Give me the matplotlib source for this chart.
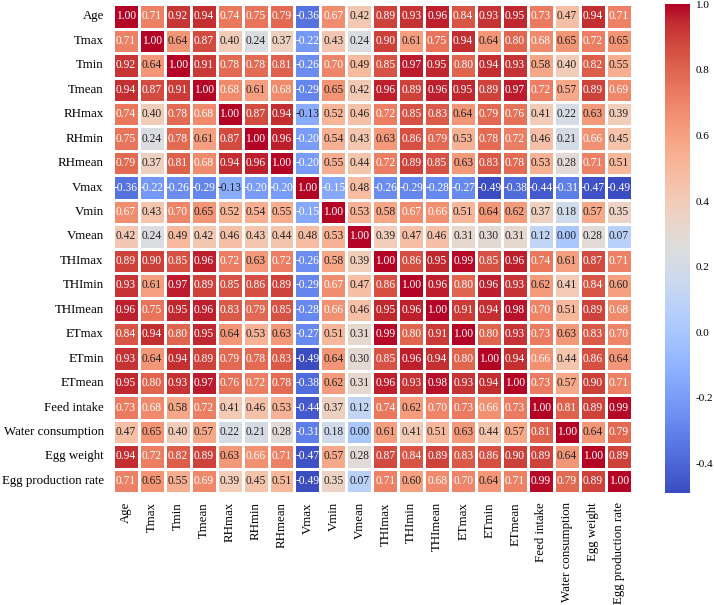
import numpy as np
import matplotlib
matplotlib.use("Agg")
import matplotlib.pyplot as plt
import seaborn as sns

labels = ["Age", "Tmax", "Tmin", "Tmean", "RHmax", "RHmin", "RHmean",
          "Vmax", "Vmin", "Vmean", "THImax", "THImin", "THImean",
          "ETmax", "ETmin", "ETmean", "Feed intake", "Water consumption",
          "Egg weight", "Egg production rate"]

corr = [
    [1.00, 0.71, 0.92, 0.94, 0.74, 0.75, 0.79, -0.36, 0.67, 0.42, 0.89, 0.93, 0.96, 0.84, 0.93, 0.95, 0.73, 0.47, 0.94, 0.71],
    [0.71, 1.00, 0.64, 0.87, 0.40, 0.24, 0.37, -0.22, 0.43, 0.24, 0.90, 0.61, 0.75, 0.94, 0.64, 0.80, 0.68, 0.65, 0.72, 0.65],
    [0.92, 0.64, 1.00, 0.91, 0.78, 0.78, 0.81, -0.26, 0.70, 0.49, 0.85, 0.97, 0.95, 0.80, 0.94, 0.93, 0.58, 0.40, 0.82, 0.55],
    [0.94, 0.87, 0.91, 1.00, 0.68, 0.61, 0.68, -0.29, 0.65, 0.42, 0.96, 0.89, 0.96, 0.95, 0.89, 0.97, 0.72, 0.57, 0.89, 0.69],
    [0.74, 0.40, 0.78, 0.68, 1.00, 0.87, 0.94, -0.13, 0.52, 0.46, 0.72, 0.85, 0.83, 0.64, 0.79, 0.76, 0.41, 0.22, 0.63, 0.39],
    [0.75, 0.24, 0.78, 0.61, 0.87, 1.00, 0.96, -0.20, 0.54, 0.43, 0.63, 0.86, 0.79, 0.53, 0.78, 0.72, 0.46, 0.21, 0.66, 0.45],
    [0.79, 0.37, 0.81, 0.68, 0.94, 0.96, 1.00, -0.20, 0.55, 0.44, 0.72, 0.89, 0.85, 0.63, 0.83, 0.78, 0.53, 0.28, 0.71, 0.51],
    [-0.36, -0.22, -0.26, -0.29, -0.13, -0.20, -0.20, 1.00, -0.15, 0.48, -0.26, -0.29, -0.28, -0.27, -0.49, -0.38, -0.44, -0.31, -0.47, -0.49],
    [0.67, 0.43, 0.70, 0.65, 0.52, 0.54, 0.55, -0.15, 1.00, 0.53, 0.58, 0.67, 0.66, 0.51, 0.64, 0.62, 0.37, 0.18, 0.57, 0.35],
    [0.42, 0.24, 0.49, 0.42, 0.46, 0.43, 0.44, 0.48, 0.53, 1.00, 0.39, 0.47, 0.46, 0.31, 0.30, 0.31, 0.12, 0.00, 0.28, 0.07],
    [0.89, 0.90, 0.85, 0.96, 0.72, 0.63, 0.72, -0.26, 0.58, 0.39, 1.00, 0.86, 0.95, 0.99, 0.85, 0.96, 0.74, 0.61, 0.87, 0.71],
    [0.93, 0.61, 0.97, 0.89, 0.85, 0.86, 0.89, -0.29, 0.67, 0.47, 0.86, 1.00, 0.96, 0.80, 0.96, 0.93, 0.62, 0.41, 0.84, 0.60],
    [0.96, 0.75, 0.95, 0.96, 0.83, 0.79, 0.85, -0.28, 0.66, 0.46, 0.95, 0.96, 1.00, 0.91, 0.94, 0.98, 0.70, 0.51, 0.89, 0.68],
    [0.84, 0.94, 0.80, 0.95, 0.64, 0.53, 0.63, -0.27, 0.51, 0.31, 0.99, 0.80, 0.91, 1.00, 0.80, 0.93, 0.73, 0.63, 0.83, 0.70],
    [0.93, 0.64, 0.94, 0.89, 0.79, 0.78, 0.83, -0.49, 0.64, 0.30, 0.85, 0.96, 0.94, 0.80, 1.00, 0.94, 0.66, 0.44, 0.86, 0.64],
    [0.95, 0.80, 0.93, 0.97, 0.76, 0.72, 0.78, -0.38, 0.62, 0.31, 0.96, 0.93, 0.98, 0.93, 0.94, 1.00, 0.73, 0.57, 0.90, 0.71],
    [0.73, 0.68, 0.58, 0.72, 0.41, 0.46, 0.53, -0.44, 0.37, 0.12, 0.74, 0.62, 0.70, 0.73, 0.66, 0.73, 1.00, 0.81, 0.89, 0.99],
    [0.47, 0.65, 0.40, 0.57, 0.22, 0.21, 0.28, -0.31, 0.18, 0.00, 0.61, 0.41, 0.51, 0.63, 0.44, 0.57, 0.81, 1.00, 0.64, 0.79],
    [0.94, 0.72, 0.82, 0.89, 0.63, 0.66, 0.71, -0.47, 0.57, 0.28, 0.87, 0.84, 0.89, 0.83, 0.86, 0.90, 0.89, 0.64, 1.00, 0.89],
    [0.71, 0.65, 0.55, 0.69, 0.39, 0.45, 0.51, -0.49, 0.35, 0.07, 0.71, 0.60, 0.68, 0.70, 0.64, 0.71, 0.99, 0.79, 0.89, 1.00],
]


def main():
    plt.rcParams["font.family"] = ["Liberation Serif", "DejaVu Serif"]

    fig = plt.figure(figsize=(7.14, 6.05), dpi=100)
    ax = fig.add_axes([0.158, 0.185, 0.727, 0.808])
    cax = fig.add_axes([0.931, 0.185, 0.035, 0.808])

    sns.heatmap(np.array(corr), ax=ax, cbar_ax=cax, cmap="coolwarm",
                annot=True, fmt=".2f", annot_kws={"size": 8.3},
                linewidths=1, linecolor="white",
                xticklabels=labels, yticklabels=labels)

    ax.tick_params(axis="both", length=0, labelsize=9.3, pad=6.5)
    plt.setp(ax.get_xticklabels(), rotation=90)
    plt.setp(ax.get_yticklabels(), rotation=0)

    cbar = ax.collections[0].colorbar
    cbar.outline.set_visible(False)
    cbar.set_ticks([-0.4, -0.2, 0.0, 0.2, 0.4, 0.6, 0.8, 1.0])
    cax.yaxis.set_major_formatter(matplotlib.ticker.FormatStrFormatter("%.1f"))
    cax.tick_params(length=0, labelsize=8, pad=4.5)

    fig.savefig("out.png", dpi=100)


if __name__ == "__main__":
    main()
